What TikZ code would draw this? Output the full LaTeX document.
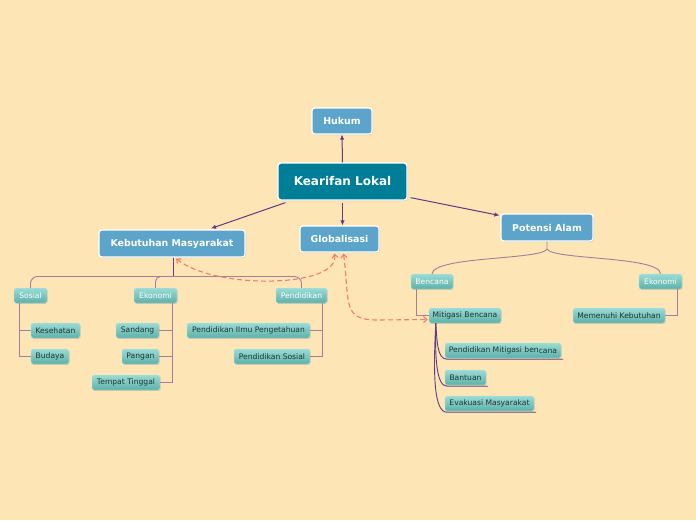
\documentclass[tikz,border=0pt]{standalone}
\usepackage{fontspec}
\setmainfont{DejaVu Sans}
\usetikzlibrary{shadows,arrows.meta}
\definecolor{bg}{HTML}{FEE5B5}
\definecolor{mainblue}{HTML}{5CA4C9}
\definecolor{rootteal}{HTML}{007D97}
\definecolor{tealtop}{HTML}{9ADBD5}
\definecolor{tealbot}{HTML}{5CB1A9}
\definecolor{purp}{HTML}{5E3B82}
\definecolor{mauve}{HTML}{A27E9F}
\definecolor{dashred}{HTML}{F27B6F}
\definecolor{darktext}{HTML}{1F3333}
\begin{document}
\begin{tikzpicture}[x=1pt,y=-1pt,
  rootbox/.style={draw=white, line width=1.3pt, fill=rootteal, rounded corners=3pt,
    text=white, font=\bfseries\fontsize{12}{14}\selectfont, minimum height=37pt, inner sep=0pt,
    drop shadow={shadow xshift=1pt, shadow yshift=-1pt, opacity=0.25}},
  mainbox/.style={draw=white, line width=1.1pt, fill=mainblue, rounded corners=3pt,
    text=white, font=\bfseries\fontsize{9.4}{11}\selectfont, minimum height=26pt, inner sep=0pt,
    drop shadow={shadow xshift=1pt, shadow yshift=-1pt, opacity=0.25}},
  subbox/.style={draw=tealtop!60!white, line width=0.4pt, top color=tealtop, bottom color=tealbot,
    rounded corners=2pt, minimum height=15pt, inner sep=0pt,
    font=\fontsize{7.6}{9}\selectfont,
    drop shadow={shadow xshift=0.6pt, shadow yshift=-0.8pt, opacity=0.3}},
  lvltwo/.style={subbox, text=white},
  lvlthree/.style={subbox, text=darktext},
  mainarrow/.style={draw=purp, line width=1pt, -{Latex[length=5pt,width=4.5pt]}},
  trunk/.style={draw=purp, line width=0.8pt},
  branch/.style={draw=mauve, line width=0.9pt},
  linkarrow/.style={draw=dashred, line width=1.1pt, dash pattern=on 5pt off 3pt,
    {Straight Barb[length=3.5pt,width=6pt]}-{Straight Barb[length=3.5pt,width=6pt]}}
]
\useasboundingbox (0,0) rectangle (696,520);
\fill[bg] (0,0) rectangle (696,520);

% main nodes
\node[rootbox, minimum width=129pt] (kl) at (342.5,181.5) {Kearifan Lokal};
\node[mainbox, minimum width=60pt] (hk) at (342,121) {Hukum};
\node[mainbox, minimum width=146pt, minimum height=27pt] (kb) at (172,243.5) {Kebutuhan Masyarakat};
\node[mainbox, minimum width=79pt] (gl) at (339.5,239) {Globalisasi};
\node[mainbox, minimum width=92pt, minimum height=27pt] (pa) at (547,227.5) {Potensi Alam};

% level two
\node[lvltwo, minimum width=33pt] (so) at (30.5,295.5) {Sosial};
\node[lvltwo, minimum width=43pt] (ek) at (155.5,295.5) {Ekonomi};
\node[lvltwo, minimum width=51pt] (pd) at (301.5,295.5) {Pendidikan};
\node[lvltwo, minimum width=42pt] (bc) at (432,281.5) {Bencana};
\node[lvltwo, minimum width=43pt] (er) at (660.5,281.5) {Ekonomi};

% level three
\node[lvlthree, minimum width=49pt] (ks) at (55.5,330.5) {Kesehatan};
\node[lvlthree, minimum width=38pt] (bd) at (50,356.5) {Budaya};
\node[lvlthree, minimum width=43pt] (sd) at (137.5,330.5) {Sandang};
\node[lvlthree, minimum width=37pt] (pg) at (140.5,356.5) {Pangan};
\node[lvlthree, minimum width=68pt] (tt) at (126,382.5) {Tempat Tinggal};
\node[lvlthree, minimum width=123pt] (pip) at (248.5,330.5) {Pendidikan Ilmu Pengetahuan};
\node[lvlthree, minimum width=76pt] (ps) at (272,356.5) {Pendidikan Sosial};
\node[lvlthree, minimum width=72pt] (mb) at (465,315.5) {Mitigasi Bencana};
\node[lvlthree, minimum width=92pt] (mk) at (619,315.5) {Memenuhi Kebutuhan};
\node[lvlthree, minimum width=116pt] (pmb) at (503,350.5) {Pendidikan Mitigasi ben\raisebox{-1.3pt}{cana}};
\node[lvlthree, minimum width=41pt] (bt) at (465.5,377.5) {Bantuan};
\node[lvlthree, minimum width=89pt] (ev) at (489.5,403.5) {Evakuasi Masyarakat};

% main arrows
\draw[mainarrow] (kl.north) -- (hk.south);
\draw[mainarrow] ([xshift=8pt,yshift=-2pt]kl.south west) -- ([xshift=39pt,yshift=1pt]kb.north);
\draw[mainarrow] ([yshift=-2pt]kl.south) -- (kl.south |- gl.north);
\draw[mainarrow] ([xshift=3pt,yshift=3pt]kl.south east) -- ([xshift=-1pt,yshift=-2pt]pa.north west);

% Kebutuhan subtree
\coordinate (kbj) at (173,276.5);
\draw[trunk] ([xshift=1pt]kb.south) -- (kbj);
\draw[branch, rounded corners=7pt] (so.north) |- (kbj) -| (pd.north);
\draw[branch, rounded corners=5pt] (ek.north) |- ([xshift=10pt]ek.north |- kbj);

\draw[branch] ([xshift=6pt]so.south west) |- (bd.west);
\draw[branch] ([xshift=6pt]so.south west |- ks.west) -- (ks.west);
\draw[branch] ([xshift=-5pt]ek.south east) |- (tt.east);
\draw[branch] ([xshift=-5pt]ek.south east |- sd.east) -- (sd.east);
\draw[branch] ([xshift=-5pt]ek.south east |- pg.east) -- (pg.east);
\draw[branch] ([xshift=-5pt]pd.south east) |- (ps.east);
\draw[branch] ([xshift=-5pt]pd.south east |- pip.east) -- (pip.east);

% Potensi Alam subtree
\coordinate (paj) at (547,249);
\draw[branch] (pa.south) -- (paj) .. controls (542,260) and (434,256) .. (bc.north);
\draw[branch] (paj) .. controls (552,260) and (660,256) .. (er.north);
\draw[branch] ([xshift=6pt]bc.south west) |- (mb.west);
\draw[branch] ([xshift=-5pt]er.south east) |- (mk.east);

% Mitigasi subtree
\coordinate (mbj) at ([xshift=7pt]mb.south west);
\draw[trunk, line width=0.9pt] (mbj) .. controls (437,340) and (437,359) .. ([xshift=2pt,yshift=-1pt]pmb.south west) -- ([xshift=2pt,yshift=-1pt]pmb.south east);
\draw[trunk, line width=0.9pt] (mbj) .. controls (435,355) and (436,386) .. ([xshift=2pt,yshift=-1pt]bt.south west) -- ([xshift=2pt,yshift=-1pt]bt.south east);
\draw[trunk, line width=0.9pt] (mbj) .. controls (433,375) and (434,412) .. ([xshift=2pt,yshift=-1pt]ev.south west) -- ([xshift=2pt,yshift=-1pt]ev.south east);

% dashed links
\draw[linkarrow] ([xshift=4pt,yshift=-1pt]kb.south) .. controls (215,290) and (340,288) .. ([xshift=-5pt,yshift=-1pt]gl.south);
\draw[linkarrow] ([xshift=4pt,yshift=-1pt]gl.south) .. controls (350,305) and (342,320) .. (378,320) -- ([xshift=-1pt,yshift=-4pt]mb.west);
\end{tikzpicture}
\end{document}
